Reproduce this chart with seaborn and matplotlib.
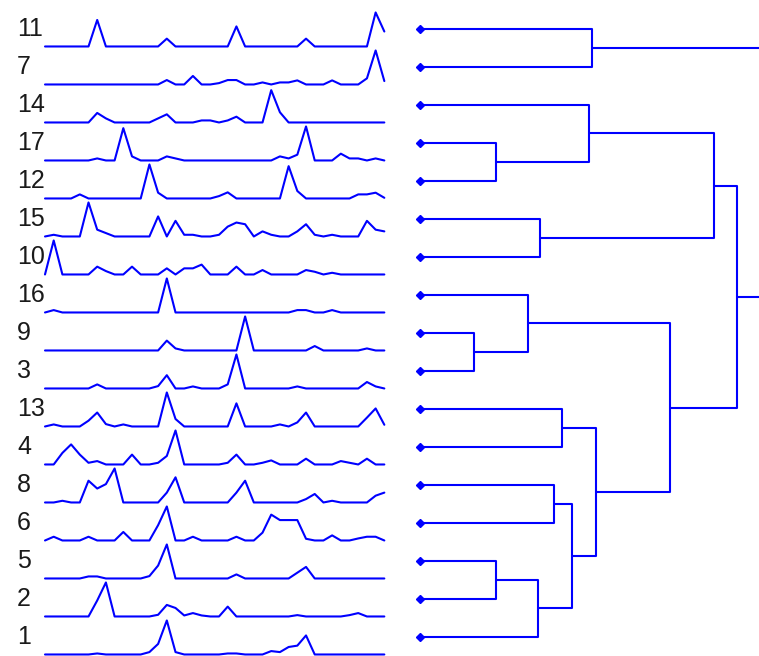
import numpy as np
import pandas as pd
import matplotlib
matplotlib.use('Agg')
import matplotlib.pyplot as plt
import seaborn as sns

# profiles (40 samples each), one list per observation
p1 = [0,0,0,0,0, 0,.03,0,0,0, 0,0,.07,.31,1.0, .07,0,0,0,0, 0,.03,.03,0,0, 0,.1,.07,.22,.26, .56,0,0,0,0, 0,0,0,0,0]
p2 = [0,0,0,0,0, 0,.47,1.0,0,0, 0,0,0,.05,.34, .25,.03,.1,.03,0, 0,.29,0,0,0, 0,0,0,0,.04, 0,0,0,0,0, .04,.1,0,0,0]
p3 = [0,0,0,0,0, 0,.12,0,0,0, 0,0,0,.07,.39, 0,0,.06,0,0, 0,.12,1.0,0,0, 0,0,0,0,.06, 0,0,0,0,0, 0,0,.19,.06,0]
p4 = [0,0,.34,.59,.29, .05,.1,0,0,0, .29,0,0,.05,.25, 1.0,0,0,0,0, 0,.05,.29,0,0, .05,.12,0,0,0, .17,0,0,0,.1, .05,0,.17,0,0]
p5 = [0,0,0,0,0, .06,.06,0,0,0, 0,0,.07,.38,1.0, 0,0,0,0,0, 0,0,.12,0,0, 0,0,0,0,.17, .34,0,0,0,0, 0,0,0,0,0]
p6 = [0,.11,0,0,0, .11,0,0,0,.25, 0,0,0,.45,1.0, 0,0,.11,0,0, 0,0,.11,0,0, .23,.76,.6,.6,.6, .05,0,0,.15,0, 0,.06,.11,.11,0]
p7 = [0,0,0,0,0, 0,0,0,0,0, 0,0,0,0,.13, 0,0,.25,0,0, .04,.13,.13,0,0, .06,0,.06,.06,.12, 0,0,0,.12,0, 0,0,.18,1.0,.1]
p8 = [0,0,.05,0,0, .64,.41,.54,1.0,0, 0,0,0,0,.29, .74,0,0,0,0, 0,0,.29,.64,0, 0,0,0,0,0, .1,.25,0,.05,0, 0,0,0,.2,.29]
p9 = [0,0,0,0,0, 0,0,0,0,0, 0,0,0,0,.29, .06,0,0,0,0, 0,0,0,1.0,0, 0,0,0,0,0, 0,.13,0,0,0, 0,0,.06,0,0]
p10 = [0,1.0,0,0,0, 0,.23,.1,0,0, .23,0,0,0,.18, 0,.18,.18,.29,0, 0,0,.23,0,0, .13,0,0,0,0, .13,.08,0,.05,0, 0,0,0,0,0]
p11 = [0,0,0,0,0, 0,.78,0,0,0, 0,0,0,0,.23, 0,0,0,0,0, 0,0,.59,0,0, 0,0,0,0,0, .23,0,0,0,0, 0,0,0,1.0,.44]
p12 = [0,0,0,0,.12, 0,0,0,0,0, 0,0,1.0,.17,0, 0,0,0,0,0, .07,.18,0,0,0, 0,0,0,.95,.22, 0,0,0,0,0, 0,.12,.12,.17,.02]
p13 = [0,.06,0,0,0, .17,.41,.07,0,.06, 0,0,0,0,1.0, .22,0,0,0,0, 0,0,.68,0,0, 0,0,.06,0,.12, .41,0,0,0,0, 0,0,.26,.53,.05]
p14 = [0,0,0,0,0, 0,.28,.12,0,0, 0,0,0,.12,.24, 0,0,0,.06,.06, 0,.06,.17,0,0, 0,.95,.3,0,0, 0,0,0,0,0, 0,0,0,0,0]
p15 = [0,.05,0,0,0, 1.0,.2,.1,0,0, 0,0,0,.59,0, .46,.05,.05,0,0, .05,.29,.41,.36,0, .15,.05,0,0,.15, .36,.05,0,.05,0, 0,0,.46,.2,.15]
p16 = [0,.07,0,0,0, 0,0,0,0,0, 0,0,0,0,1.0, 0,0,0,0,0, 0,0,0,0,0, 0,0,0,0,.07, .07,0,0,.07,0, 0,0,0,0,0]
p17 = [0,0,0,0,0, 0,.06,0,0,.95, .12,0,0,0,.12, .06,0,0,0,0, 0,0,0,0,0, 0,0,.12,.06,.17, 1.0,0,0,0,.2, .06,.06,0,.06,0]

labels = ['1', '2', '3', '4', '5', '6', '7', '8', '9', '10',
          '11', '12', '13', '14', '15', '16', '17']

# linkage: observations 0..16, merged clusters numbered 17, 18, ...
link_a = [8, 16, 4, 15, 19, 14, 7, 12, 23, 13, 10, 24, 20, 26, 30, 27]
link_b = [2, 11, 1, 17, 0, 9, 5, 3, 21, 18, 6, 25, 28, 22, 29, 31]
link_h = [5.4, 7.6, 7.6, 10.8, 11.8, 12.0, 13.4, 14.2, 15.2, 16.9, 17.2, 17.6, 25.0, 29.4, 31.7, 40.0]

BLUE = '#0000ff'
profiles = [p1, p2, p3, p4, p5, p6, p7, p8, p9, p10, p11, p12, p13, p14, p15, p16, p17]
n = len(profiles)
children = {n + i: (a, b) for i, (a, b) in enumerate(zip(link_a, link_b))}


def leaves(node):
    if node < n:
        return [node]
    a, b = children[node]
    return leaves(a) + leaves(b)


order = leaves(n + len(link_a) - 1)

sns.set_style('white')
plt.rcParams['font.family'] = ['Liberation Sans', 'DejaVu Sans']

fig = plt.figure(figsize=(7.59, 6.56), dpi=100)
ax_l = fig.add_axes([0, 0, 400 / 759, 1])
ax_r = fig.add_axes([400 / 759, 0, 359 / 759, 1])

# sparklines, stacked one per row
recs = []
for r, leaf in enumerate(order):
    for k, v in enumerate(profiles[leaf]):
        recs.append({'label': labels[leaf], 'sample': k, 'level': v, 'row': r})
df = pd.DataFrame(recs)
df['y'] = df['row'] + 0.46 - df['level'] * 0.895
sns.lineplot(data=df, x='sample', y='y', units='label', estimator=None,
             color=BLUE, lw=1.5, ax=ax_l, legend=False)
for r, leaf in enumerate(order):
    ax_l.text(-3.22, r, labels[leaf], fontsize=18, ha='left', va='center',
              color='#1a1a1a')
ax_l.set_xlim(-5.172, 40.8)
ax_l.set_ylim(16.5, -0.763)
ax_l.axis('off')

# dendrogram
ypos = {leaf: float(r) for r, leaf in enumerate(order)}
hpos = {leaf: 0.0 for leaf in order}
for i, (a, b, h) in enumerate(zip(link_a, link_b, link_h)):
    node = n + i
    ax_r.plot([hpos[a], h, h, hpos[b]], [ypos[a], ypos[a], ypos[b], ypos[b]],
              color=BLUE, lw=1.5)
    ypos[node] = (ypos[a] + ypos[b]) / 2
    hpos[node] = h
ax_r.plot(np.zeros(n), np.arange(n), 'D', ms=4, color=BLUE, zorder=3)
ax_r.set_xlim(-2.0, 33.9)
ax_r.set_ylim(16.5, -0.763)
ax_r.axis('off')

fig.savefig('out.png', dpi=100)
